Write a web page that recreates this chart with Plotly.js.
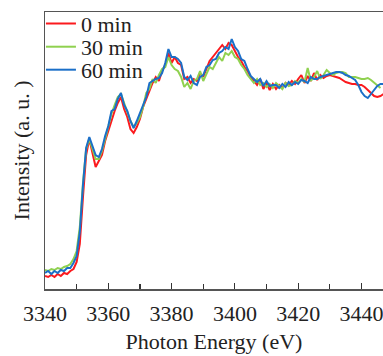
<!DOCTYPE html>
<html>
<head>
<meta charset="utf-8">
<script src="https://cdn.plot.ly/plotly-3.0.1.min.js"></script>
<style>
html,body{margin:0;padding:0;background:#fff;overflow:hidden}
#chart{width:383px;height:356px}
</style>
</head>
<body>
<div id="chart"></div>
<script>
// Photon energy (eV), 1 eV steps
const energy = [];
for (let e = 3340; e <= 3447; e++) energy.push(e);

const seriesNames = ["0 min", "30 min", "60 min"];
const seriesColors = ["#fb1a1e", "#8fd14f", "#1b6fc8"];

// Intensity (a. u.)
const int0 = [13,12,14,12,15,13,16,15,18,20,27,45,92,134,150,136,122,128,134,148,
  158,170,178,186,192,180,172,160,156,162,170,182,190,200,206,212,208,218,224,236,
  226,232,226,224,210,212,206,210,208,216,212,220,228,232,236,240,244,240,246,244,
  238,232,228,222,218,212,208,204,210,200,206,199,205,200,204,201,206,204,208,205,
  210,214,206,213,208,216,209,214,211,213,214,213,212,211,209,207,206,205,205,204,
  204,202,199,196,193,192,193,195];
const int30 = [19,18,20,19,21,20,22,23,25,30,38,62,106,140,150,140,130,130,138,150,
  162,175,184,192,195,186,176,168,162,166,172,182,196,200,210,206,214,220,222,232,
  224,220,218,212,202,206,200,208,210,218,208,216,222,220,226,232,228,236,234,238,
  232,230,224,220,214,210,206,210,204,206,202,205,201,206,203,200,206,203,204,208,
  206,210,207,221,208,212,218,210,214,219,216,214,216,217,217,216,212,212,212,211,
  210,210,211,209,206,203,201];
const int60 = [16,18,15,18,16,19,18,21,21,26,33,57,104,141,152,143,134,132,140,153,
  163,178,180,190,196,184,178,168,161,168,176,186,192,206,208,210,211,216,226,240,
  232,232,230,226,212,209,213,206,204,212,214,222,224,229,230,236,238,242,240,250,
  242,238,230,228,220,213,210,207,210,203,208,203,204,204,201,205,202,207,204,207,
  205,209,208,206,212,210,210,212,213,214,215,216,217,217,216,214,213,211,209,204,
  197,193,191,195,199,203,205,205];

const ys = [int0, int30, int60];
const legendIds = ["legend", "legend2", "legend3"];

const traces = ys.map((y, i) => ({
  type: "scatter", mode: "lines",
  x: energy.slice(0, y.length), y: y,
  name: seriesNames[i],
  line: {color: seriesColors[i], width: 2},
  legend: legendIds[i]
}));

const font = {family: "Liberation Serif, Times New Roman, serif", size: 22, color: "#222"};
function leg(yy) {
  return {x: -0.012, xanchor: "left", y: yy, yanchor: "middle",
    bgcolor: "rgba(0,0,0,0)", borderwidth: 0, font: font, tracegroupgap: 0};
}

const layout = {
  width: 383, height: 356,
  margin: {l: 45, r: 0, t: 12, b: 67},
  paper_bgcolor: "#fff", plot_bgcolor: "#fff",
  font: font,
  showlegend: true,
  legend: leg(0.958),
  legend2: leg(0.874),
  legend3: leg(0.791),
  xaxis: {
    range: [3340, 3446.8],
    tick0: 3340, dtick: 20,
    ticks: "inside", ticklen: 6, tickwidth: 1.2, tickcolor: "#333",
    minor: {dtick: 10, ticks: "inside", ticklen: 5, tickwidth: 1.2, tickcolor: "#333"},
    showline: true, linecolor: "#555", linewidth: 1.5, mirror: true,
    showgrid: false, zeroline: false,
    ticklabelstandoff: 4,
    ticklabeloverflow: "allow",
    tickfont: font,
    title: {text: "Photon Energy (eV)", font: font, standoff: 8}
  },
  yaxis: {
    range: [0, 277],
    showticklabels: false, ticks: "",
    showline: true, linecolor: "#555", linewidth: 1.5,
    showgrid: false, zeroline: false,
    title: {text: "Intensity (a. u. )", font: font, standoff: 8}
  }
};

Plotly.newPlot("chart", traces, layout, {displayModeBar: false, staticPlot: true});
</script>
</body>
</html>
